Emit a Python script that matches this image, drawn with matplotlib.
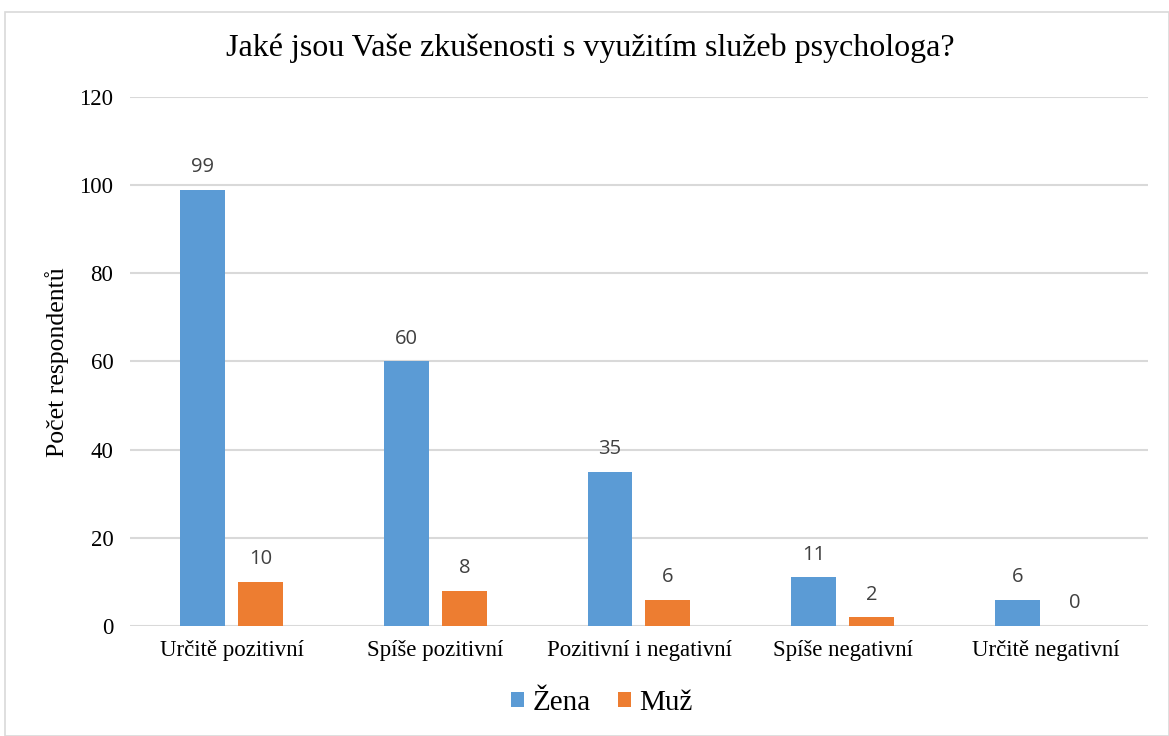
import matplotlib
matplotlib.use("Agg")
import matplotlib.pyplot as plt
import numpy as np
from matplotlib.patches import Rectangle

categories = ["Určitě pozitivní", "Spíše pozitivní", "Pozitivní i negativní",
              "Spíše negativní", "Určitě negativní"]
zena = [99, 60, 35, 11, 6]
muz = [10, 8, 6, 2, 0]
series_names = ["Žena", "Muž"]
yticks = [0, 20, 40, 60, 80, 100, 120]

SERIF = "Liberation Serif"
SANS = "Open Sans"
BLUE = "#5b9bd5"
ORANGE = "#ed7d31"

fig = plt.figure(figsize=(11.69, 7.36), dpi=100)
fig.patches.append(Rectangle((0.004, 0.0), 0.996, 0.984, transform=fig.transFigure,
                             fill=False, edgecolor="#d9d9d9", linewidth=1.2))
ax = fig.add_axes([0.1112, 0.1495, 0.8708, 0.7187])

x = np.arange(len(categories))
w = 0.22
off = 0.142
b1 = ax.bar(x - off, zena, w, color=BLUE, label=series_names[0], zorder=3)
b2 = ax.bar(x + off, muz, w, color=ORANGE, label=series_names[1], zorder=3)

for bars, vals in ((b1, zena), (b2, muz)):
    for r, v in zip(bars, vals):
        ax.annotate(str(v), (r.get_x() + r.get_width() / 2, v), xytext=(0, 9),
                    textcoords="offset points", ha="center", va="bottom",
                    fontsize=14.5, family=SANS, color="#404040")

ax.set_xlim(-0.5, len(categories) - 0.5)
ax.set_ylim(0, 120)
ax.set_yticks(yticks)
ax.set_xticks(x)
ax.set_xticklabels(categories)
ax.tick_params(length=0, labelsize=16.5)
ax.tick_params(axis="x", pad=10)
ax.tick_params(axis="y", pad=12)
for lab in ax.get_xticklabels() + ax.get_yticklabels():
    lab.set_family(SERIF)
    lab.set_color("#000000")
ax.grid(axis="y", color="#d9d9d9", linewidth=1.5, zorder=0)
for s in ax.spines.values():
    s.set_visible(False)

fig.text(57 / 1169, 1 - 362 / 736, "Počet respondentů", rotation=90,
         ha="center", va="center", family=SERIF, fontsize=18.5)
fig.text(0.505, 0.934, "Jaké jsou Vaše zkušenosti s využitím služeb psychologa?",
         ha="center", va="center", family=SERIF, fontsize=23)

leg = fig.legend(handles=[b1, b2], labels=series_names, loc="center",
                 bbox_to_anchor=(0.515, 0.045), ncol=2, frameon=False,
                 prop={"family": SERIF, "size": 21}, handlelength=0.45,
                 handleheight=0.45, handletextpad=0.3, columnspacing=0.9)

fig.savefig("out.png", dpi=100)
